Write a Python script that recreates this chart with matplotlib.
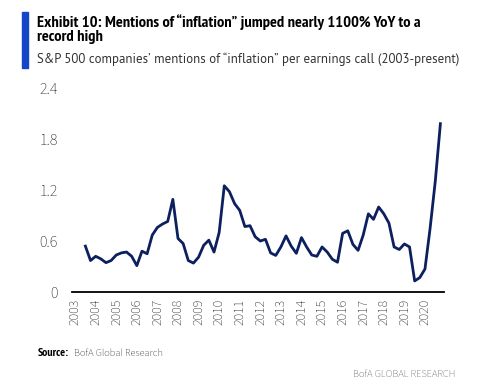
import matplotlib
matplotlib.use("Agg")
import matplotlib.pyplot as plt
from matplotlib.patches import Rectangle

# Mentions of "inflation" per earnings call, quarterly, 2003Q3 onwards
mentions = [
    0.54, 0.37, 0.42, 0.39, 0.345, 0.37, 0.435, 0.46, 0.47, 0.42,
    0.31, 0.48, 0.45, 0.67, 0.76, 0.80, 0.83, 1.09, 0.63, 0.57,
    0.37, 0.34, 0.41, 0.55, 0.61, 0.47, 0.70, 1.25, 1.18, 1.04,
    0.96, 0.77, 0.78, 0.65, 0.60, 0.62, 0.46, 0.43, 0.53, 0.66,
    0.54, 0.455, 0.64, 0.53, 0.435, 0.42, 0.53, 0.47, 0.385, 0.35,
    0.69, 0.72, 0.56, 0.49, 0.67, 0.92, 0.855, 1.00, 0.92, 0.81,
    0.53, 0.50, 0.565, 0.53, 0.13, 0.17, 0.27, 0.75, 1.30, 1.98,
]
start_quarter = 2  # 2003Q3 (index 0 = 2003Q1)
years = [str(y) for y in range(2003, 2021)]
y_ticks = [0, 0.6, 1.2, 1.8, 2.4]
y_labels = ["0", "0.6", "1.2", "1.8", "2.4"]

body = ["Source Sans 3", "DejaVu Sans"]
sub = ["PT Sans", "DejaVu Sans"]
cond = ["PT Sans Narrow", "DejaVu Sans"]
grey = "#222222"
navy = "#0c1f5e"

fig = plt.figure(figsize=(5, 3.8), dpi=100)
ax = fig.add_axes([0.144, 0.2316, 0.744, 0.5368])

xs = list(range(start_quarter, start_quarter + len(mentions)))
ax.plot(xs, mentions, color=navy, linewidth=2.0, solid_joinstyle="round")

ax.set_xlim(-0.6, 71.7)
ax.set_ylim(0, 2.4)
ax.set_xticks(range(0, 4 * len(years), 4))
ax.set_xticklabels(years, rotation=90, family=body, fontsize=10, color=grey)
ax.set_yticks(y_ticks)
ax.set_yticklabels(y_labels, family=body, fontsize=11.5, color=grey)
ax.tick_params(axis="both", length=0)
ax.tick_params(axis="x", pad=5)
ax.tick_params(axis="y", pad=10)
for side in ["top", "right", "left"]:
    ax.spines[side].set_visible(False)
ax.spines["bottom"].set_linewidth(1.3)
ax.spines["bottom"].set_color("black")

# title block
fig.patches.append(Rectangle((22 / 500, 1 - 68 / 380), 6 / 500, 56 / 380,
                             transform=fig.transFigure, color="#1446c8"))
fig.text(37 / 500, 1 - 14 / 380,
         "Exhibit 10: Mentions of \u201cinflation\u201d jumped nearly 1100% YoY to a\nrecord high",
         family=cond, fontsize=11.8, fontweight="bold", va="top", ha="left",
         linespacing=1.0, color="black")
fig.text(37 / 500, 1 - 53 / 380,
         "S&P 500 companies\u2019 mentions of \u201cinflation\u201d per earnings call (2003-present)",
         family=sub, fontsize=9.25, va="top", ha="left", color="#333333")

fig.text(38 / 500, 1 - 353 / 380, "Source:", family=cond, fontsize=8.5,
         fontweight="bold", va="center", ha="left", color="black")
fig.text(74 / 500, 1 - 353 / 380, "BofA Global Research", family=body,
         fontsize=7.5, va="center", ha="left", color=grey)
fig.text(455 / 500, 1 - 374 / 380, "BofA GLOBAL RESEARCH", family=body,
         fontsize=7.5, va="center", ha="right", color="#555555")

fig.savefig("out.png", dpi=100)
